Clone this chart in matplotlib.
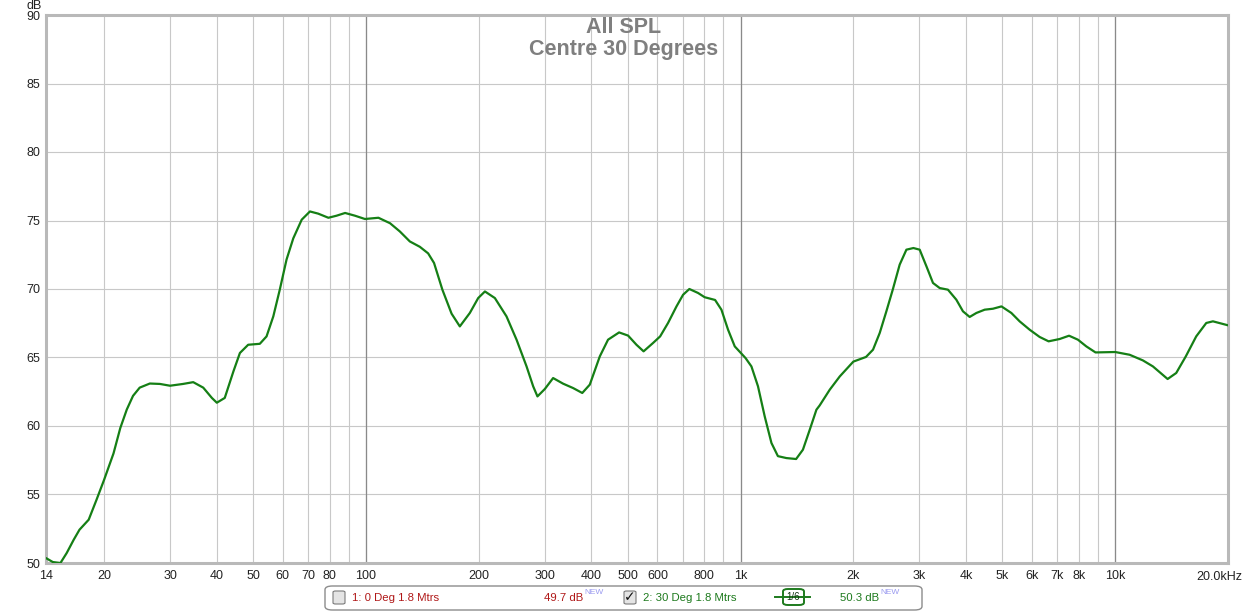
import matplotlib
matplotlib.use("Agg")
import matplotlib.pyplot as plt
from matplotlib.patches import FancyBboxPatch
from matplotlib.lines import Line2D

plt.rcParams['font.family'] = ['Liberation Sans', 'DejaVu Sans']

# ---- data ----
freq_hz = [14.0, 14.6, 15.3, 15.9, 16.6, 17.2, 18.2, 19.1, 20.0, 21.2, 22.1, 23.0,
           23.9, 24.9, 26.5, 28.2, 30.0, 32.5, 34.6, 36.8, 38.8, 40.0, 42.0, 44.3,
           46.1, 48.5, 52.1, 54.3, 56.6, 58.9, 61.4, 64.0, 67.4, 70.9, 74.6, 79.4,
           83.5, 88.0, 93.5, 99.4, 108.0, 116.0, 123.2, 131.0, 139.3, 146.6, 152.0,
           160.0, 169.3, 178.1, 189.4, 199.4, 207.8, 220.9, 237.3, 252.4, 268.4,
           279.6, 287.0, 300.3, 316.0, 336.0, 357.3, 378.0, 395.9, 421.0, 442.9,
           474.0, 500.9, 527.4, 551.0, 584.0, 610.0, 640.4, 674.5, 702.4, 730.0,
           770.0, 802.0, 855.0, 889.0, 926.0, 965.0, 1031.0, 1069.0, 1113.0, 1160.0,
           1209.0, 1258.0, 1325.0, 1407.0, 1467.0, 1530.0, 1594.0, 1626.0, 1730.0,
           1840.0, 2000.0, 2162.0, 2257.0, 2352.0, 2450.0, 2548.0, 2659.0, 2771.0,
           2893.0, 3007.0, 3140.0, 3263.0, 3400.0, 3577.0, 3766.0, 3923.0, 4088.0,
           4260.0, 4483.0, 4717.0, 4970.0, 5282.0, 5557.0, 5910.0, 6284.0, 6640.0,
           7107.0, 7530.0, 7952.0, 8373.0, 8860.0, 10000.0, 10926.0, 11850.0,
           12606.0, 13276.0, 13800.0, 14550.0, 15430.0, 16450.0, 17500.0, 18230.0,
           20000.0]
spl_db = [50.36, 50.07, 50.0, 50.73, 51.7, 52.43, 53.16, 54.62, 56.06, 58.0, 59.85, 61.2,
          62.2, 62.8, 63.1, 63.07, 62.94, 63.07, 63.2, 62.8, 62.05, 61.7, 62.05, 63.99,
          65.33, 65.93, 66.0, 66.54, 68.0, 69.95, 72.15, 73.7, 75.06, 75.66, 75.5, 75.2,
          75.35, 75.55, 75.35, 75.11, 75.2, 74.8, 74.2, 73.47, 73.08, 72.6, 71.9,
          69.95, 68.2, 67.27, 68.25, 69.34, 69.82, 69.34, 68.0, 66.3, 64.35,
          62.89, 62.16, 62.7, 63.5, 63.09, 62.77, 62.41, 63.02, 65.08, 66.3,
          66.83, 66.6, 65.93, 65.45, 66.06, 66.54, 67.52, 68.73, 69.58, 70.0,
          69.71, 69.4, 69.2, 68.49, 67.03, 65.81, 64.96, 64.35, 62.9, 60.7,
          58.76, 57.8, 57.66, 57.59, 58.27, 59.73, 61.19, 61.5, 62.65,
          63.62, 64.7, 65.04, 65.57, 66.79, 68.37, 69.95, 71.78, 72.87,
          72.99, 72.87, 71.6, 70.44, 70.07, 69.95, 69.22, 68.37, 67.96,
          68.25, 68.49, 68.56, 68.73, 68.25, 67.64, 67.03, 66.5, 66.18,
          66.35, 66.59, 66.3, 65.81, 65.37, 65.4, 65.2, 64.79,
          64.35, 63.82, 63.43, 63.87, 65.08, 66.54, 67.52, 67.64,
          67.35]

x_ticks = [14, 20, 30, 40, 50, 60, 70, 80, 100, 200, 300, 400, 500, 600, 800,
           1000, 2000, 3000, 4000, 5000, 6000, 7000, 8000, 10000]
x_tick_labels = ['14', '20', '30', '40', '50', '60', '70', '80', '100', '200', '300',
                 '400', '500', '600', '800', '1k', '2k', '3k', '4k', '5k', '6k', '7k',
                 '8k', '10k']
x_minor_grid = [90, 700, 900, 9000]
x_dark_grid = [100, 1000, 10000]
y_ticks = [50, 55, 60, 65, 70, 75, 80, 85, 90]

title_lines = ['All SPL', 'Centre 30 Degrees']
legend_names = ['1: 0 Deg 1.8 Mtrs', '2: 30 Deg 1.8 Mtrs']
legend_levels = ['49.7 dB', '50.3 dB']

W, H = 1249, 612
fig = plt.figure(figsize=(W / 100, H / 100), dpi=100)
L, R, T, B = 46, 1228, 15, 563
ax = fig.add_axes([L / W, 1 - B / H, (R - L) / W, (B - T) / H])

ax.set_xscale('log')
ax.set_xlim(14, 20000)
ax.set_ylim(50, 90)

ax.set_xticks(x_ticks)
ax.set_xticklabels(x_tick_labels)
ax.set_xticks(x_minor_grid, minor=True)
ax.set_xticklabels([], minor=True)
ax.set_yticks(y_ticks)
ax.set_yticklabels([str(v) for v in y_ticks])

ax.tick_params(which='both', length=0, labelsize=9, colors='#222222')
ax.tick_params(axis='x', pad=5)
ax.tick_params(axis='y', pad=4)

ax.grid(True, which='both', color='#c8c8c8', linewidth=0.8)
for xv in x_dark_grid:
    ax.axvline(xv, color='#8a8a8a', linewidth=0.9, zorder=1.5)
ax.set_axisbelow(True)

for s in ax.spines.values():
    s.set_color('#b9b9b9')
    s.set_linewidth(2.2)

ax.plot(freq_hz, spl_db, color='#157f15', linewidth=1.6, solid_joinstyle='round',
        solid_capstyle='round', zorder=3, clip_on=True)

# last x label
ax.annotate('20.0kHz', xy=(20000, 0), xycoords=('data', 'axes fraction'),
            xytext=(-6, -5.5), textcoords='offset points', ha='center', va='top',
            fontsize=9, color='#222222')
# dB label
fig.text(34 / W, 1 - 6 / H, 'dB', ha='center', va='center', fontsize=9, color='#222222')

# titles
fig.text(624 / W, 1 - 33 / H, title_lines[0], ha='center', va='baseline',
         fontsize=15.5, fontweight='bold', color='#7f7f7f')
fig.text(624 / W, 1 - 55 / H, title_lines[1], ha='center', va='baseline',
         fontsize=15.5, fontweight='bold', color='#7f7f7f')

# ---- legend panel ----
def fx(px):
    return px / W


def fy(py):
    return 1 - py / H


box = FancyBboxPatch((fx(325), fy(610)), fx(922) - fx(325), fy(586) - fy(610),
                     boxstyle='round,pad=0,rounding_size=0.006',
                     transform=fig.transFigure, facecolor='white',
                     edgecolor='#8c8c8c', linewidth=1.0)
fig.patches.append(box)

ty = 598
red = '#b01818'
green = '#1d7a1d'
newc = '#9a9af0'

# checkboxes
for cx in (333, 624):
    cb = FancyBboxPatch((fx(cx), fy(604)), fx(cx + 12) - fx(cx), fy(591) - fy(604),
                        boxstyle='round,pad=0,rounding_size=0.002',
                        transform=fig.transFigure, facecolor='#e4e4e4',
                        edgecolor='#7a7a7a', linewidth=0.8)
    fig.patches.append(cb)
fig.text(fx(630), fy(597.5), '\u2713', ha='center', va='center', fontsize=10,
         fontweight='bold', color='#111111', family=['DejaVu Sans'])

fig.text(fx(352), fy(ty), legend_names[0], ha='left', va='center', fontsize=8.2, color=red)
fig.text(fx(583), fy(ty), legend_levels[0], ha='right', va='center', fontsize=8.2, color=red)
fig.text(fx(584), fy(592), 'NEW', ha='left', va='center', fontsize=6, color=newc)

fig.text(fx(643), fy(ty), legend_names[1], ha='left', va='center', fontsize=8.2, color=green)
fig.text(fx(879), fy(ty), legend_levels[1], ha='right', va='center', fontsize=8.2, color=green)
fig.text(fx(880), fy(592), 'NEW', ha='left', va='center', fontsize=6, color=newc)

# smoothing icon
fig.lines.append(Line2D([fx(775), fx(810)], [fy(597), fy(597)], transform=fig.transFigure,
                        color=green, linewidth=1.4))
icon = FancyBboxPatch((fx(783), fy(605)), fx(804) - fx(783), fy(589) - fy(605),
                      boxstyle='round,pad=0,rounding_size=0.004',
                      transform=fig.transFigure, facecolor='white',
                      edgecolor=green, linewidth=1.4)
fig.patches.append(icon)
fig.text(fx(793.5), fy(597), '1/6', ha='center', va='center', fontsize=7, color='#113311')

fig.savefig('out.png', dpi=100)
